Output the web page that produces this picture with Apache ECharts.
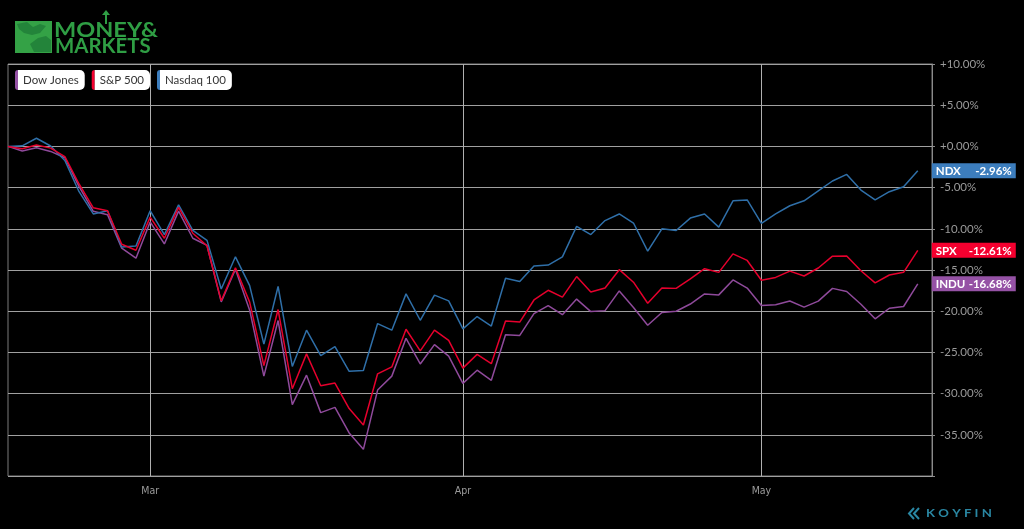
<!DOCTYPE html>
<html>
<head>
<meta charset="utf-8">
<style>
  html, body { margin: 0; padding: 0; background: #000; }
  #chart { width: 1024px; height: 529px; }
</style>
<script src="https://cdn.jsdelivr.net/npm/echarts@6/dist/echarts.min.js"></script>
</head>
<body>
<div id="chart"></div>
<script>
// Trading days from 2020-02-14 to 2020-05-18 (plus one empty slot at the end)
const dates = [
  '2020-02-14','2020-02-18','2020-02-19','2020-02-20','2020-02-21','2020-02-24','2020-02-25','2020-02-26','2020-02-27','2020-02-28',
  '2020-03-02','2020-03-03','2020-03-04','2020-03-05','2020-03-06','2020-03-09','2020-03-10','2020-03-11','2020-03-12','2020-03-13',
  '2020-03-16','2020-03-17','2020-03-18','2020-03-19','2020-03-20','2020-03-23','2020-03-24','2020-03-25','2020-03-26','2020-03-27',
  '2020-03-30','2020-03-31',
  '2020-04-01','2020-04-02','2020-04-03','2020-04-06','2020-04-07','2020-04-08','2020-04-09','2020-04-13','2020-04-14','2020-04-15',
  '2020-04-16','2020-04-17','2020-04-20','2020-04-21','2020-04-22','2020-04-23','2020-04-24','2020-04-27','2020-04-28','2020-04-29','2020-04-30',
  '2020-05-01','2020-05-04','2020-05-05','2020-05-06','2020-05-07','2020-05-08','2020-05-11','2020-05-12','2020-05-13','2020-05-14','2020-05-15','2020-05-18',
  '2020-05-19'
];

// % change since start
const dowJones = [
  0, -0.56, -0.17, -0.61, -1.38, -4.89, -7.88, -8.30, -12.35, -13.57,
  -9.17, -11.84, -7.85, -11.15, -12.02, -18.87, -14.90, -19.88, -27.88, -21.13,
  -31.33, -27.76, -32.31, -31.67, -34.78, -36.76, -29.57, -27.88, -23.29, -26.40,
  -24.05, -25.45,
  -28.76, -27.16, -28.39, -22.85, -22.94, -20.29, -19.32, -20.43, -18.53, -20.05,
  -19.93, -17.54, -19.55, -21.70, -20.15, -20.01, -19.13, -17.91, -18.02, -16.21, -17.19,
  -19.30, -19.21, -18.76, -19.50, -18.78, -17.23, -17.61, -19.16, -20.92, -19.64, -19.43, -16.68
];
const sp500 = [
  0, -0.29, 0.18, -0.21, -1.25, -4.56, -7.45, -7.80, -11.88, -12.60,
  -8.58, -11.15, -7.40, -10.54, -12.06, -18.74, -14.73, -18.90, -26.61, -19.80,
  -29.41, -25.18, -29.05, -28.72, -31.81, -33.81, -27.60, -26.76, -22.19, -24.81,
  -22.29, -23.54,
  -26.91, -25.24, -26.37, -21.20, -21.32, -18.64, -17.46, -18.30, -15.80, -17.66,
  -17.18, -14.96, -16.48, -19.04, -17.18, -17.23, -16.08, -14.84, -15.29, -13.04, -13.84,
  -16.25, -15.90, -15.14, -15.73, -14.76, -13.32, -13.31, -15.09, -16.57, -15.61, -15.28, -12.61
];
const nasdaq100 = [
  0, 0.07, 0.99, 0.05, -1.7, -5.5, -8.2, -7.8, -12.2, -12.1,
  -7.8, -10.7, -7.1, -10.2, -11.4, -17.3, -13.4, -16.9, -24.0, -17.0,
  -26.7, -22.3, -25.4, -24.3, -27.3, -27.2, -21.5, -22.3, -17.9, -21.1,
  -18.05, -18.75,
  -22.15, -20.65, -21.8, -16.0, -16.4, -14.5, -14.4, -13.4, -9.7, -10.7,
  -9.0, -8.2, -9.3, -12.7, -10.0, -10.2, -8.7, -8.2, -9.8, -6.6, -6.5,
  -9.35, -8.2, -7.2, -6.6, -5.4, -4.2, -3.4, -5.3, -6.5, -5.5, -4.9, -2.96
];

const seriesNames = ['Dow Jones', 'S&P 500', 'Nasdaq 100'];
const tickerNames = ['INDU', 'SPX', 'NDX'];
const monthLabels = { '2020-03-02': 'Mar', '2020-04-01': 'Apr', '2020-05-01': 'May' };
const yTickHidden = [-40];

const lineColors = ['#8f4a9b', '#e6002d', '#2f6fa8'];
const boxColors = ['#9552a5', '#f5002f', '#3c7dbd'];
const legendKeys = { 'Dow Jones': 'dj', 'S&P 500': 'sp', 'Nasdaq 100': 'nq' };

const chart = echarts.init(document.getElementById('chart'), null, { renderer: 'canvas' });

const isMonthStart = (idx) => monthLabels[dates[idx]] !== undefined;

function makeSeries(i, data, z) {
  return {
    name: seriesNames[i],
    type: 'line',
    data: data,
    symbol: 'none',
    z: z,
    lineStyle: { color: lineColors[i], width: 1.5 },
    itemStyle: { color: lineColors[i] },
    endLabel: {
      show: true,
      distance: 14,
      formatter: (p) => '{n|' + tickerNames[i] + '}{v|' + Number(p.value).toFixed(2) + '%}',
      backgroundColor: boxColors[i],
      padding: [2, 4, 1, 4],
      rich: {
        n: { color: '#fff', fontFamily: 'Lato', fontSize: 11.5, fontWeight: 'bold', width: 38, align: 'left' },
        v: { color: '#fff', fontFamily: 'Lato', fontSize: 11.5, fontWeight: 'bold', width: 38, align: 'right' }
      }
    }
  };
}

const option = {
  backgroundColor: '#000',
  animation: false,
  grid: {
    left: 8, right: 92, top: 64, bottom: 53,
    show: true, borderColor: '#7a7a7a', borderWidth: 1
  },
  legend: {
    left: 10, top: 70, padding: 0,
    itemWidth: 0, itemHeight: 0, itemGap: 2,
    icon: 'rect',
    data: seriesNames,
    formatter: (name) => '{' + legendKeys[name] + '|}{t|' + name + '}',
    textStyle: {
      rich: {
        dj: { backgroundColor: boxColors[0], width: 3, height: 20, borderRadius: [5, 0, 0, 5] },
        sp: { backgroundColor: boxColors[1], width: 3, height: 20, borderRadius: [5, 0, 0, 5] },
        nq: { backgroundColor: boxColors[2], width: 3, height: 20, borderRadius: [5, 0, 0, 5] },
        t: {
          backgroundColor: '#fff', color: '#333', fontFamily: 'Lato', fontSize: 11.5,
          height: 20, lineHeight: 20, padding: [0, 6, 0, 5], borderRadius: [0, 5, 5, 0]
        }
      }
    }
  },
  xAxis: {
    type: 'category',
    data: dates,
    boundaryGap: false,
    axisLine: { show: false },
    axisTick: { show: false },
    axisLabel: {
      interval: (idx) => isMonthStart(idx),
      formatter: (v) => monthLabels[v] || '',
      color: '#9a9a9a',
      fontFamily: 'Liberation Sans Narrow, DejaVu Sans Condensed, sans-serif',
      fontSize: 10.5,
      margin: 10
    },
    splitLine: {
      show: true,
      interval: (idx) => isMonthStart(idx),
      lineStyle: { color: '#b0b0b0', width: 1 }
    }
  },
  yAxis: {
    type: 'value',
    position: 'right',
    min: -40, max: 10, interval: 5,
    axisLine: { show: true, lineStyle: { color: '#8a8a8a', width: 1 } },
    axisTick: { show: true, length: 3, lineStyle: { color: '#8a8a8a' } },
    axisLabel: {
      color: '#9a9a9a',
      fontFamily: 'Lato',
      fontSize: 11.5,
      margin: 8,
      formatter: (v) => yTickHidden.includes(v) ? '' : ((v >= 0 ? '+' : '') + v.toFixed(2) + '%')
    },
    splitLine: { show: true, lineStyle: { color: '#a0a0a0', width: 1.2 } }
  },
  series: [
    makeSeries(0, dowJones, 2),
    makeSeries(2, nasdaq100, 3),
    makeSeries(1, sp500, 4)
  ],
  graphic: [
    // Money & Markets logo
    { type: 'rect', left: 15, top: 21, shape: { width: 37, height: 32 }, style: { fill: '#34a246' } },
    { type: 'polygon', shape: { points: [[17,24],[27,22],[33,27],[40,24],[46,26],[40,33],[32,35],[24,33],[19,29]] }, style: { fill: '#23843a' } },
    { type: 'polygon', shape: { points: [[30,44],[38,38],[46,36],[51,40],[51,52],[34,52]] }, style: { fill: '#23843a' } },
    { type: 'text', left: 54, top: 20, style: { text: 'MONEY&', fill: '#2f9e44', font: 'bold 21px Lato, sans-serif' }, scaleX: 1.12 },
    { type: 'text', left: 55, top: 37, style: { text: 'MARKETS', fill: '#2f9e44', font: 'bold 20px Lato, sans-serif' }, scaleX: 1.02 },
    { type: 'polyline', shape: { points: [[106, 24], [106, 12]] }, style: { stroke: '#2f9e44', lineWidth: 2 } },
    { type: 'polygon', shape: { points: [[102, 15], [106, 10], [110, 15]] }, style: { fill: '#2f9e44' } },
    // Koyfin logo
    { type: 'polyline', shape: { points: [[914, 508], [909, 513.5], [914, 519]] }, style: { stroke: '#2a87a3', lineWidth: 2, fill: null } },
    { type: 'polyline', shape: { points: [[919, 508], [914, 513.5], [919, 519]] }, style: { stroke: '#2a87a3', lineWidth: 2, fill: null } },
    { type: 'text', left: 926, top: 508, style: { text: 'K O Y F I N', fill: '#2a87a3', font: 'bold 11px Lato, sans-serif' }, scaleX: 1.2 }
  ]
};

chart.setOption(option);
</script>
</body>
</html>
